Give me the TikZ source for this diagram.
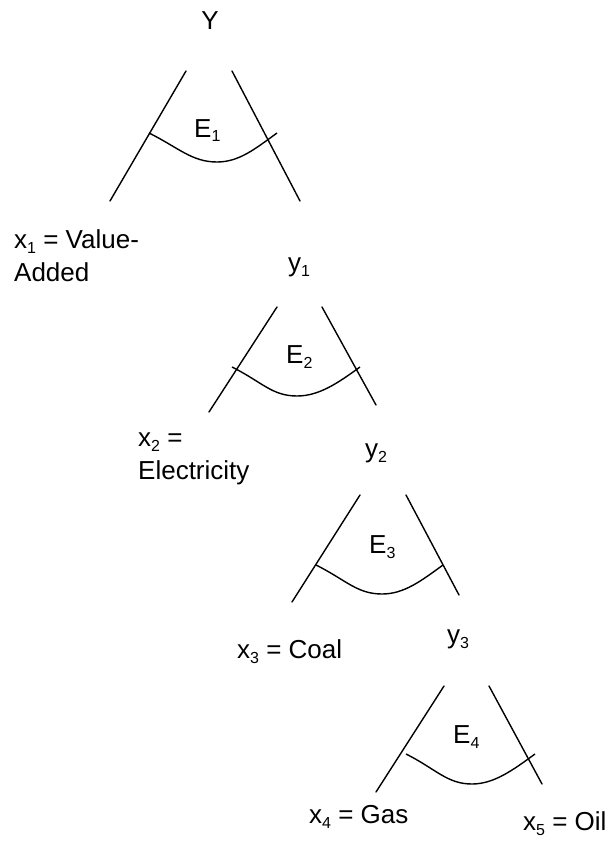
\documentclass[tikz,border=0pt]{standalone}
\usepackage{fontspec}
\setmainfont{Liberation Sans}
\usepackage{tikz}
\usetikzlibrary{positioning}

\newcommand{\subix}[1]{\raisebox{-5pt}{\fontsize{16}{16}\selectfont #1}}

\tikzset{
  lbl/.style={font=\fontsize{26}{33}\selectfont, inner sep=0pt, anchor=base west, align=left},
  branch/.style={line width=1.4pt, line cap=round},
  elast/.style={line width=1.4pt}
}

\begin{document}
\begin{tikzpicture}[x=1pt, y=-1pt]
    \useasboundingbox (0,0) rectangle (609,848);

    % labels
    \node[lbl, anchor=base] (Ytop) at (210,30) {Y};
    \node[lbl] (x1) at (14,281) {x\subix{1} = Value-\\Added};
    \node[lbl] (y1) at (288,271) {y\subix{1}};
    \node[lbl] (x2) at (138,479) {x\subix{2} =\\Electricity};
    \node[lbl] (y2) at (365,457) {y\subix{2}};
    \node[lbl] (x3) at (237,658) {x\subix{3} = Coal};
    \node[lbl] (y3) at (447,643) {y\subix{3}};
    \node[lbl] (x4) at (309,823) {x\subix{4} = Gas};
    \node[lbl] (x5) at (523,830) {x\subix{5} = Oil};

    \node[lbl] (E1) at (194,137) {E\subix{1}};
    \node[lbl] (E2) at (286,363) {E\subix{2}};
    \node[lbl] (E3) at (369,553) {E\subix{3}};
    \node[lbl] (E4) at (453,743) {E\subix{4}};

    % nest 1
    \coordinate (a1) at (186,71);  \coordinate (b1) at (110,201);
    \coordinate (c1) at (232,71);  \coordinate (d1) at (300,201);
    \coordinate (s1) at (149,133); \coordinate (m1) at (217,162); \coordinate (e1) at (277,133);
    \draw[branch] (a1) -- (b1);
    \draw[branch] (c1) -- (d1);
    \draw[elast] (s1) .. controls +(30,15) and +(-25,0) .. (m1)
                      .. controls +(22,0) and +(-22,16) .. (e1);

    % nest 2
    \coordinate (a2) at (277,307); \coordinate (b2) at (209,412);
    \coordinate (c2) at (322,307); \coordinate (d2) at (376,405);
    \coordinate (s2) at (232,367); \coordinate (m2) at (297,396); \coordinate (e2) at (360,367);
    \draw[branch] (a2) -- (b2);
    \draw[branch] (c2) -- (d2);
    \draw[elast] (s2) .. controls +(30,15) and +(-25,0) .. (m2)
                      .. controls +(22,0) and +(-22,16) .. (e2);

    % nest 3
    \coordinate (a3) at (360,495); \coordinate (b3) at (292,602);
    \coordinate (c3) at (406,495); \coordinate (d3) at (459,595);
    \coordinate (s3) at (316,565); \coordinate (m3) at (382,594); \coordinate (e3) at (443,565);
    \draw[branch] (a3) -- (b3);
    \draw[branch] (c3) -- (d3);
    \draw[elast] (s3) .. controls +(30,15) and +(-25,0) .. (m3)
                      .. controls +(22,0) and +(-22,16) .. (e3);

    % nest 4
    \coordinate (a4) at (444,686); \coordinate (b4) at (376,792);
    \coordinate (c4) at (489,686); \coordinate (d4) at (542,784);
    \coordinate (s4) at (406,754); \coordinate (m4) at (472,784); \coordinate (e4) at (535,754);
    \draw[branch] (a4) -- (b4);
    \draw[branch] (c4) -- (d4);
    \draw[elast] (s4) .. controls +(30,15) and +(-25,0) .. (m4)
                      .. controls +(22,0) and +(-22,16) .. (e4);
\end{tikzpicture}
\end{document}
